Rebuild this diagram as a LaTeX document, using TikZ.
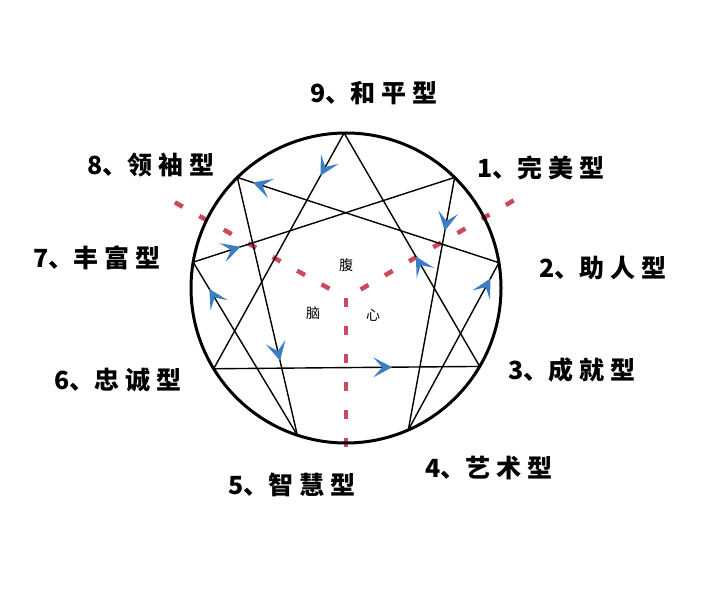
\documentclass[tikz,border=0pt]{standalone}
\usepackage{fontspec}
\newfontfamily\cjk{Noto Sans CJK SC}
\usetikzlibrary{decorations.markings,calc}
\definecolor{arrblue}{RGB}{59,126,194}
\definecolor{dashred}{RGB}{205,72,95}
\newcommand{\typelbl}[4]{#1、#2\kern6pt#3\kern6pt#4}
\tikzset{
  ring/.style={line width=3pt},
  chord/.style={line width=1.4pt},
  flowat/.style={postaction={decorate,decoration={markings,
     mark=at position #1 with {\fill[arrblue] (3pt,0pt) -- (-16pt,10pt) -- (-7pt,0pt) -- (-16pt,-10pt) -- cycle;}}}},
  reddash/.style={dashred,line width=4.5pt,dash pattern=on 9pt off 19pt},
  outerlbl/.style={font=\cjk\bfseries\fontsize{25}{25}\selectfont,inner sep=0pt},
  innerlbl/.style={font=\cjk\fontsize{14}{14}\selectfont,inner sep=0pt}
}
\begin{document}
\begin{tikzpicture}[x=1pt,y=1pt]
\useasboundingbox[fill=white] (0,0) rectangle (720,592);
\coordinate (c) at (346,304);
\coordinate (J) at (346,294);
% points on the circle
\coordinate (p9) at ($(c)+(90.7:155)$);
\coordinate (p1) at ($(c)+(45.5:155)$);
\coordinate (p2) at ($(c)+(9.4:155)$);
\coordinate (p3) at ($(c)+(-30.4:155)$);
\coordinate (p4) at ($(c)+(-66.3:155)$);
\coordinate (p5) at ($(c)+(-108.3:155)$);
\coordinate (p6) at ($(c)+(-148.6:155)$);
\coordinate (p7) at ($(c)+(170.4:155)$);
\coordinate (p8) at ($(c)+(134.5:155)$);
% red dashed separators
\draw[reddash] ($(J)+(150.8:19)$) -- ($(J)+(150.8:200)$);
\draw[reddash] ($(J)+(30.2:17)$) -- ($(J)+(30.2:198)$);
\draw[reddash] (J) -- ($(J)+(0,-150)$);
% circle
\draw[ring] (c) circle[radius=155];
% triangle 9-6-3
\draw[chord,flowat=0.17] (p9) -- (p6);
\draw[chord,flowat=0.66] (p6) -- (p3);
\draw[chord,flowat=0.46] (p3) -- (p9);
% hexad 1-4-2-8-5-7-1
\draw[chord,flowat=0.20] (p1) -- (p4);
\draw[chord,flowat=0.89] (p4) -- (p2);
\draw[chord,flowat=0.93] (p2) -- (p8);
\draw[chord,flowat=0.70] (p8) -- (p5);
\draw[chord,flowat=0.83] (p5) -- (p7);
\draw[chord,flowat=0.17] (p7) -- (p1);
% inner labels
\node[innerlbl] (gut) at (346,327) {腹};
\node[innerlbl] (head) at (313,279) {脑};
\node[innerlbl] (heart) at (373,277) {心};
% outer labels
\node[outerlbl] (t9) at (374,499) {\typelbl{9}{和}{平}{型}};
\node[outerlbl] (t1) at (541,424) {\typelbl{1}{完}{美}{型}};
\node[outerlbl] (t2) at (603,324) {\typelbl{2}{助}{人}{型}};
\node[outerlbl] (t3) at (572,222) {\typelbl{3}{成}{就}{型}};
\node[outerlbl] (t4) at (489,124) {\typelbl{4}{艺}{术}{型}};
\node[outerlbl] (t5) at (292,107) {\typelbl{5}{智}{慧}{型}};
\node[outerlbl] (t6) at (118,212) {\typelbl{6}{忠}{诚}{型}};
\node[outerlbl] (t7) at (97,334) {\typelbl{7}{丰}{富}{型}};
\node[outerlbl] (t8) at (151,427) {\typelbl{8}{领}{袖}{型}};
\end{tikzpicture}
\end{document}
